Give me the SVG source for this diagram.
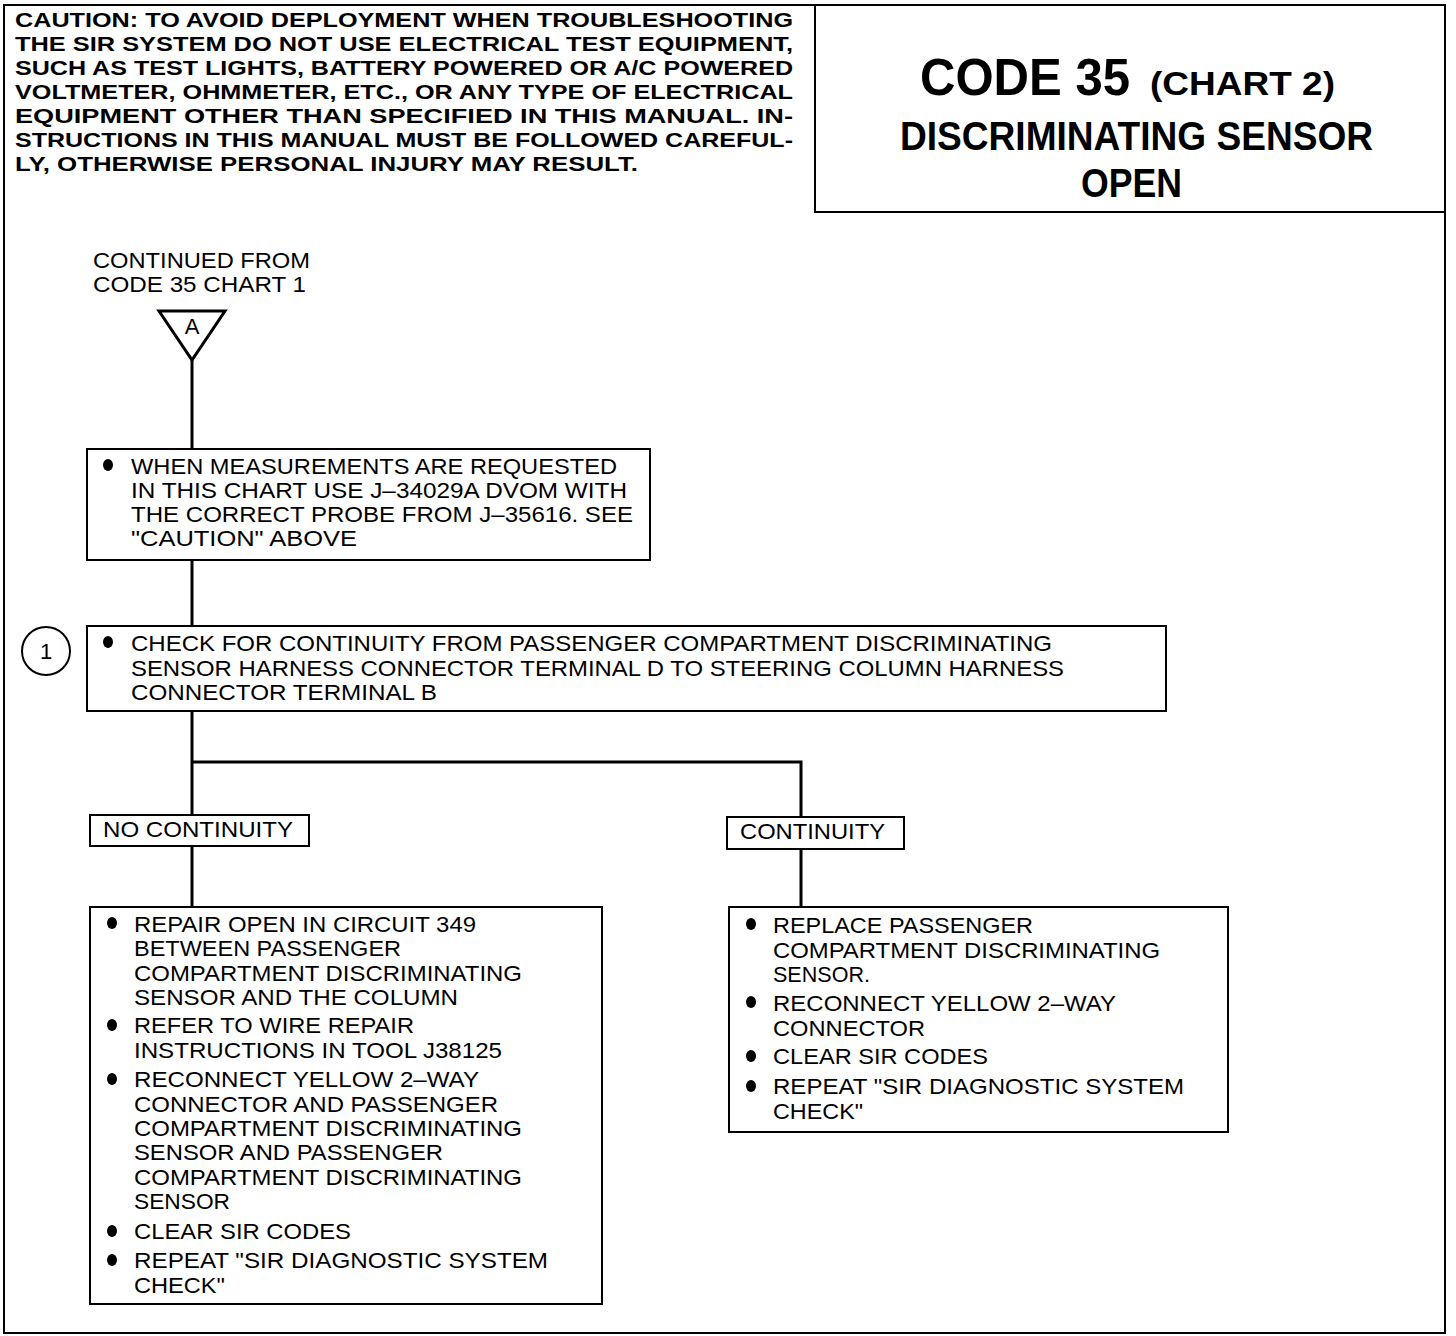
<svg xmlns="http://www.w3.org/2000/svg" width="1456" height="1336" viewBox="0 0 1456 1336">
<style>
.frame{fill:none;stroke:#000;stroke-width:2}
.box{fill:#fff;stroke:#000;stroke-width:2}
.conn{fill:none;stroke:#000;stroke-width:3}
.cau{font-family:"Liberation Sans",Arial,sans-serif;font-weight:bold;font-size:21px;fill:#000}
.t{font-family:"Liberation Sans",Arial,sans-serif;font-size:22px;fill:#000}
.ttl{font-family:"Liberation Sans",Arial,sans-serif;font-weight:bold;fill:#000}
.bul{fill:#000}
</style>
<rect width="1456" height="1336" fill="#fff"/>
<g id="frame">
<rect class="frame" x="4" y="5" width="1441" height="1328"/>
</g>
<g id="caution">
<text class="cau" x="15" y="27" textLength="778" lengthAdjust="spacingAndGlyphs">CAUTION: TO AVOID DEPLOYMENT WHEN TROUBLESHOOTING</text>
<text class="cau" x="15" y="51" textLength="778" lengthAdjust="spacingAndGlyphs">THE SIR SYSTEM DO NOT USE ELECTRICAL TEST EQUIPMENT,</text>
<text class="cau" x="15" y="75" textLength="778" lengthAdjust="spacingAndGlyphs">SUCH AS TEST LIGHTS, BATTERY POWERED OR A/C POWERED</text>
<text class="cau" x="15" y="99" textLength="778" lengthAdjust="spacingAndGlyphs">VOLTMETER, OHMMETER, ETC., OR ANY TYPE OF ELECTRICAL</text>
<text class="cau" x="15" y="123" textLength="778" lengthAdjust="spacingAndGlyphs">EQUIPMENT  OTHER  THAN  SPECIFIED  IN  THIS  MANUAL.  IN-</text>
<text class="cau" x="15" y="147" textLength="778" lengthAdjust="spacingAndGlyphs">STRUCTIONS IN THIS MANUAL MUST BE FOLLOWED CAREFUL-</text>
<text class="cau" x="15" y="171" textLength="623" lengthAdjust="spacingAndGlyphs">LY, OTHERWISE PERSONAL INJURY MAY RESULT.</text>
</g>
<g id="title">
<rect class="box" x="815" y="5" width="630" height="207"/>
<text class="ttl" x="920" y="95" font-size="52" textLength="210" lengthAdjust="spacingAndGlyphs">CODE 35</text>
<text class="ttl" x="1150" y="95" font-size="33" textLength="185" lengthAdjust="spacingAndGlyphs">(CHART 2)</text>
<text class="ttl" x="900" y="150" font-size="40" textLength="473" lengthAdjust="spacingAndGlyphs">DISCRIMINATING SENSOR</text>
<text class="ttl" x="1081" y="197" font-size="40" textLength="101" lengthAdjust="spacingAndGlyphs">OPEN</text>
</g>
<g id="connectors">
<line class="conn" x1="192" y1="360" x2="192" y2="449"/>
<line class="conn" x1="192" y1="560" x2="192" y2="626"/>
<line class="conn" x1="192" y1="711" x2="192" y2="815"/>
<polyline class="conn" points="192,762 801,762 801,817"/>
<line class="conn" x1="192" y1="846" x2="192" y2="907"/>
<line class="conn" x1="801" y1="849" x2="801" y2="907"/>
</g>
<g id="start">
<text class="t" x="93" y="268" textLength="217" lengthAdjust="spacingAndGlyphs">CONTINUED FROM</text>
<text class="t" x="93" y="292" textLength="213" lengthAdjust="spacingAndGlyphs">CODE 35 CHART 1</text>
<polygon points="159,311 225,311 192,360" fill="#fff" stroke="#000" stroke-width="3" stroke-linejoin="miter"/>
<text class="t" x="192" y="334" font-size="18" text-anchor="middle">A</text>
</g>
<g id="box1">
<rect class="box" x="87" y="449" width="563" height="111"/>
<ellipse class="bul" cx="108" cy="465" rx="5" ry="6"/>
<text class="t" x="131" y="474" textLength="486" lengthAdjust="spacingAndGlyphs">WHEN MEASUREMENTS ARE REQUESTED</text>
<text class="t" x="131" y="498" textLength="496" lengthAdjust="spacingAndGlyphs">IN THIS CHART USE J–34029A DVOM WITH</text>
<text class="t" x="131" y="522" textLength="502" lengthAdjust="spacingAndGlyphs">THE CORRECT PROBE FROM J–35616. SEE</text>
<text class="t" x="131" y="546" textLength="226" lengthAdjust="spacingAndGlyphs">"CAUTION" ABOVE</text>
</g>
<g id="step1">
<circle cx="46" cy="651" r="24" fill="#fff" stroke="#000" stroke-width="2"/>
<text class="t" x="46" y="659" font-size="20" text-anchor="middle">1</text>
</g>
<g id="box2">
<rect class="box" x="87" y="626" width="1079" height="85"/>
<ellipse class="bul" cx="108" cy="642" rx="5" ry="6"/>
<text class="t" x="131" y="651" textLength="921" lengthAdjust="spacingAndGlyphs">CHECK FOR CONTINUITY FROM PASSENGER COMPARTMENT DISCRIMINATING</text>
<text class="t" x="131" y="676" textLength="933" lengthAdjust="spacingAndGlyphs">SENSOR HARNESS CONNECTOR TERMINAL D TO STEERING COLUMN HARNESS</text>
<text class="t" x="131" y="700" textLength="306" lengthAdjust="spacingAndGlyphs">CONNECTOR TERMINAL B</text>
</g>
<g id="label-no">
<rect class="box" x="90" y="815" width="219" height="31"/>
<text class="t" x="103" y="837" textLength="190" lengthAdjust="spacingAndGlyphs">NO CONTINUITY</text>
</g>
<g id="label-yes">
<rect class="box" x="727" y="817" width="177" height="32"/>
<text class="t" x="740" y="839" textLength="145" lengthAdjust="spacingAndGlyphs">CONTINUITY</text>
</g>
<g id="box3">
<rect class="box" x="90" y="907" width="512" height="397"/>
<ellipse class="bul" cx="112" cy="923" rx="5" ry="6"/>
<ellipse class="bul" cx="112" cy="1025" rx="5" ry="6"/>
<ellipse class="bul" cx="112" cy="1079" rx="5" ry="6"/>
<ellipse class="bul" cx="112" cy="1231" rx="5" ry="6"/>
<ellipse class="bul" cx="112" cy="1260" rx="5" ry="6"/>
<text class="t" x="134" y="932" textLength="342" lengthAdjust="spacingAndGlyphs">REPAIR OPEN IN CIRCUIT 349</text>
<text class="t" x="134" y="956" textLength="267" lengthAdjust="spacingAndGlyphs">BETWEEN PASSENGER</text>
<text class="t" x="134" y="981" textLength="388" lengthAdjust="spacingAndGlyphs">COMPARTMENT DISCRIMINATING</text>
<text class="t" x="134" y="1005" textLength="324" lengthAdjust="spacingAndGlyphs">SENSOR AND THE COLUMN</text>
<text class="t" x="134" y="1033" textLength="280" lengthAdjust="spacingAndGlyphs">REFER TO WIRE REPAIR</text>
<text class="t" x="134" y="1058" textLength="368" lengthAdjust="spacingAndGlyphs">INSTRUCTIONS IN TOOL J38125</text>
<text class="t" x="134" y="1087" textLength="345" lengthAdjust="spacingAndGlyphs">RECONNECT YELLOW 2–WAY</text>
<text class="t" x="134" y="1112" textLength="364" lengthAdjust="spacingAndGlyphs">CONNECTOR AND PASSENGER</text>
<text class="t" x="134" y="1136" textLength="388" lengthAdjust="spacingAndGlyphs">COMPARTMENT DISCRIMINATING</text>
<text class="t" x="134" y="1160" textLength="309" lengthAdjust="spacingAndGlyphs">SENSOR AND PASSENGER</text>
<text class="t" x="134" y="1185" textLength="388" lengthAdjust="spacingAndGlyphs">COMPARTMENT DISCRIMINATING</text>
<text class="t" x="134" y="1209" textLength="96" lengthAdjust="spacingAndGlyphs">SENSOR</text>
<text class="t" x="134" y="1239" textLength="217" lengthAdjust="spacingAndGlyphs">CLEAR SIR CODES</text>
<text class="t" x="134" y="1268" textLength="414" lengthAdjust="spacingAndGlyphs">REPEAT "SIR DIAGNOSTIC SYSTEM</text>
<text class="t" x="134" y="1293" textLength="91" lengthAdjust="spacingAndGlyphs">CHECK"</text>
</g>
<g id="box4">
<rect class="box" x="729" y="907" width="499" height="225"/>
<ellipse class="bul" cx="751" cy="924" rx="5" ry="6"/>
<ellipse class="bul" cx="751" cy="1002" rx="5" ry="6"/>
<ellipse class="bul" cx="751" cy="1056" rx="5" ry="6"/>
<ellipse class="bul" cx="751" cy="1086" rx="5" ry="6"/>
<text class="t" x="773" y="933" textLength="260" lengthAdjust="spacingAndGlyphs">REPLACE PASSENGER</text>
<text class="t" x="773" y="958" textLength="387" lengthAdjust="spacingAndGlyphs">COMPARTMENT DISCRIMINATING</text>
<text class="t" x="773" y="982" textLength="97" lengthAdjust="spacingAndGlyphs">SENSOR.</text>
<text class="t" x="773" y="1011" textLength="343" lengthAdjust="spacingAndGlyphs">RECONNECT YELLOW 2–WAY</text>
<text class="t" x="773" y="1036" textLength="152" lengthAdjust="spacingAndGlyphs">CONNECTOR</text>
<text class="t" x="773" y="1064" textLength="215" lengthAdjust="spacingAndGlyphs">CLEAR SIR CODES</text>
<text class="t" x="773" y="1094" textLength="411" lengthAdjust="spacingAndGlyphs">REPEAT "SIR DIAGNOSTIC SYSTEM</text>
<text class="t" x="773" y="1119" textLength="90" lengthAdjust="spacingAndGlyphs">CHECK"</text>
</g>
</svg>
